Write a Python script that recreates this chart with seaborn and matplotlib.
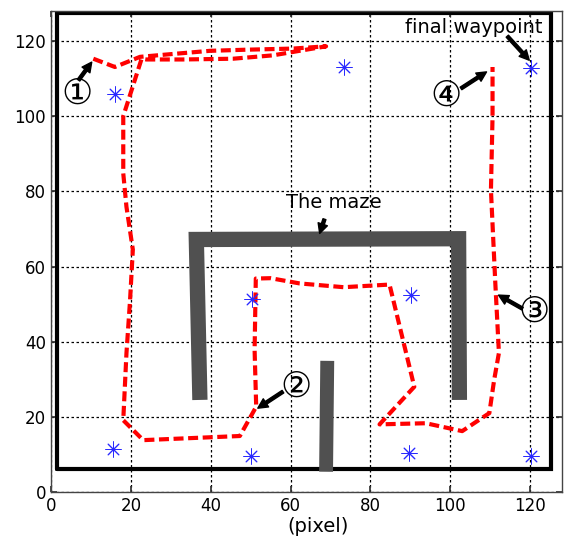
import numpy as np
import pandas as pd
import seaborn as sns
import matplotlib.pyplot as plt

sns.set_theme(style="ticks")
plt.rcParams['font.family'] = ['DejaVu Sans', 'Noto Sans CJK JP']
plt.rcParams['text.color'] = 'black'
plt.rcParams['axes.labelcolor'] = 'black'
plt.rcParams['xtick.color'] = 'black'
plt.rcParams['ytick.color'] = 'black'

# robot trajectory (pixel coords)
path_x = [10.6, 16.0, 22.3, 29.8, 39.8, 48.9, 60.6, 68.9, 55.6, 45.6, 33.0, 23.9, 22.7,
          18.1, 18.1, 18.9, 20.5, 19.8, 18.9, 18.1, 23.1, 47.3, 51.4, 51.0, 51.3,
          55.0, 62.3, 73.3, 84.8, 91.0, 82.3, 93.9, 103.0, 109.8, 111.0, 112.2,
          111.3, 110.2, 110.6, 110.6]
path_y = [115.3, 113.1, 115.8, 116.5, 117.4, 117.7, 118.0, 118.6, 116.2, 115.3, 115.1, 115.1, 115.3,
          100.0, 84.8, 75.9, 64.5, 51.0, 36.9, 19.1, 13.8, 14.9, 22.7, 37.8, 56.8,
          56.9, 55.5, 54.5, 55.2, 28.0, 18.0, 18.3, 16.2, 21.0, 29.8, 37.0,
          55.5, 80.3, 99.8, 113.1]

# waypoints
wp_x = [16.0, 73.4, 120.2, 50.4, 90.3, 15.6, 50.2, 89.8, 120.2]
wp_y = [105.9, 113.2, 112.7, 51.3, 52.5, 11.4, 9.7, 10.3, 9.7]

# maze walls
wall1_x = [37.3, 36.4, 102.1, 102.3]
wall1_y = [24.5, 67.2, 67.4, 24.5]
wall2_x = [69.2, 68.9]
wall2_y = [34.9, 5.4]

# arena border
border_x = [1.5, 125.2, 125.2, 1.5, 1.5]
border_y = [6.2, 6.2, 127.6, 127.6, 6.2]

# labels: text, text x, text y, arrow tail x, tail y, tip x, tip y
labels = ["\u2460", "\u2461", "\u2462", "\u2463"]
lab_x = [6.4, 61.4, 121.1, 98.9]
lab_y = [106.0, 28.0, 48.0, 105.6]
tail_x = [6.9, 58.1, 118.1, 102.7]
tail_y = [109.6, 26.7, 48.8, 107.4]
tip_x = [10.2, 51.8, 112.1, 109.1]
tip_y = [114.4, 22.3, 52.4, 111.8]

fig = plt.figure(figsize=(5.7, 5.44), dpi=100)
ax = fig.add_axes([51 / 570, 52 / 544, 511 / 570, 481 / 544])

ax.plot(border_x, border_y, color='black', lw=3, solid_joinstyle='miter', zorder=2)

walls = pd.DataFrame({'x': wall1_x, 'y': wall1_y})
ax.plot(walls.x, walls.y, color='#505050', lw=11, solid_joinstyle='miter',
        solid_capstyle='butt', zorder=3)
ax.plot(wall2_x, wall2_y, color='#505050', lw=10, solid_capstyle='butt', zorder=3)

traj = pd.DataFrame({'x': path_x, 'y': path_y})
sns.lineplot(data=traj, x='x', y='y', sort=False, estimator=None, ax=ax,
             color='red', lw=3, zorder=4)
ax.lines[-1].set_dashes((2.4, 1.1))

wps = pd.DataFrame({'x': wp_x, 'y': wp_y})
sns.scatterplot(data=wps, x='x', y='y', ax=ax, marker=(8, 2, 0), s=120,
                color='#2a2aff', linewidth=0.7, zorder=5)

arrow = dict(facecolor='black', edgecolor='black', width=2.2, headwidth=7,
             headlength=7, shrink=0)
for t, x, y, tx, ty, px, py in zip(labels, lab_x, lab_y, tail_x, tail_y, tip_x, tip_y):
    ax.text(x, y, t, fontsize=25, ha='center', va='center', zorder=6)
    ax.annotate('', xy=(px, py), xytext=(tx, ty), arrowprops=arrow, zorder=6)

ax.text(105.8, 122.1, 'final waypoint', fontsize=14, ha='center', va='baseline')
ax.annotate('', xy=(119.8, 114.9), xytext=(114.3, 121.3), arrowprops=arrow)
ax.text(70.8, 75.5, 'The maze', fontsize=14, ha='center', va='baseline')
ax.annotate('', xy=(67.3, 68.8), xytext=(68.5, 72.6), arrowprops=arrow)

ax.set_xlim(0, 128)
ax.set_ylim(0, 128)
ax.set_xticks(range(0, 121, 20))
ax.set_yticks(range(0, 121, 20))
ax.grid(True, color='black', linestyle=(0, (2, 2)), lw=0.9)
ax.tick_params(direction='in', top=True, right=True, length=4, labelsize=12,
               color='#333333')
for s in ax.spines.values():
    s.set_color('#444444')
    s.set_linewidth(1)
ax.set_xlabel('(pixel)', fontsize=14)
ax.set_ylabel('')
ax.xaxis.set_label_coords(0.5225, -0.052)

fig.savefig('out.png', dpi=100)
